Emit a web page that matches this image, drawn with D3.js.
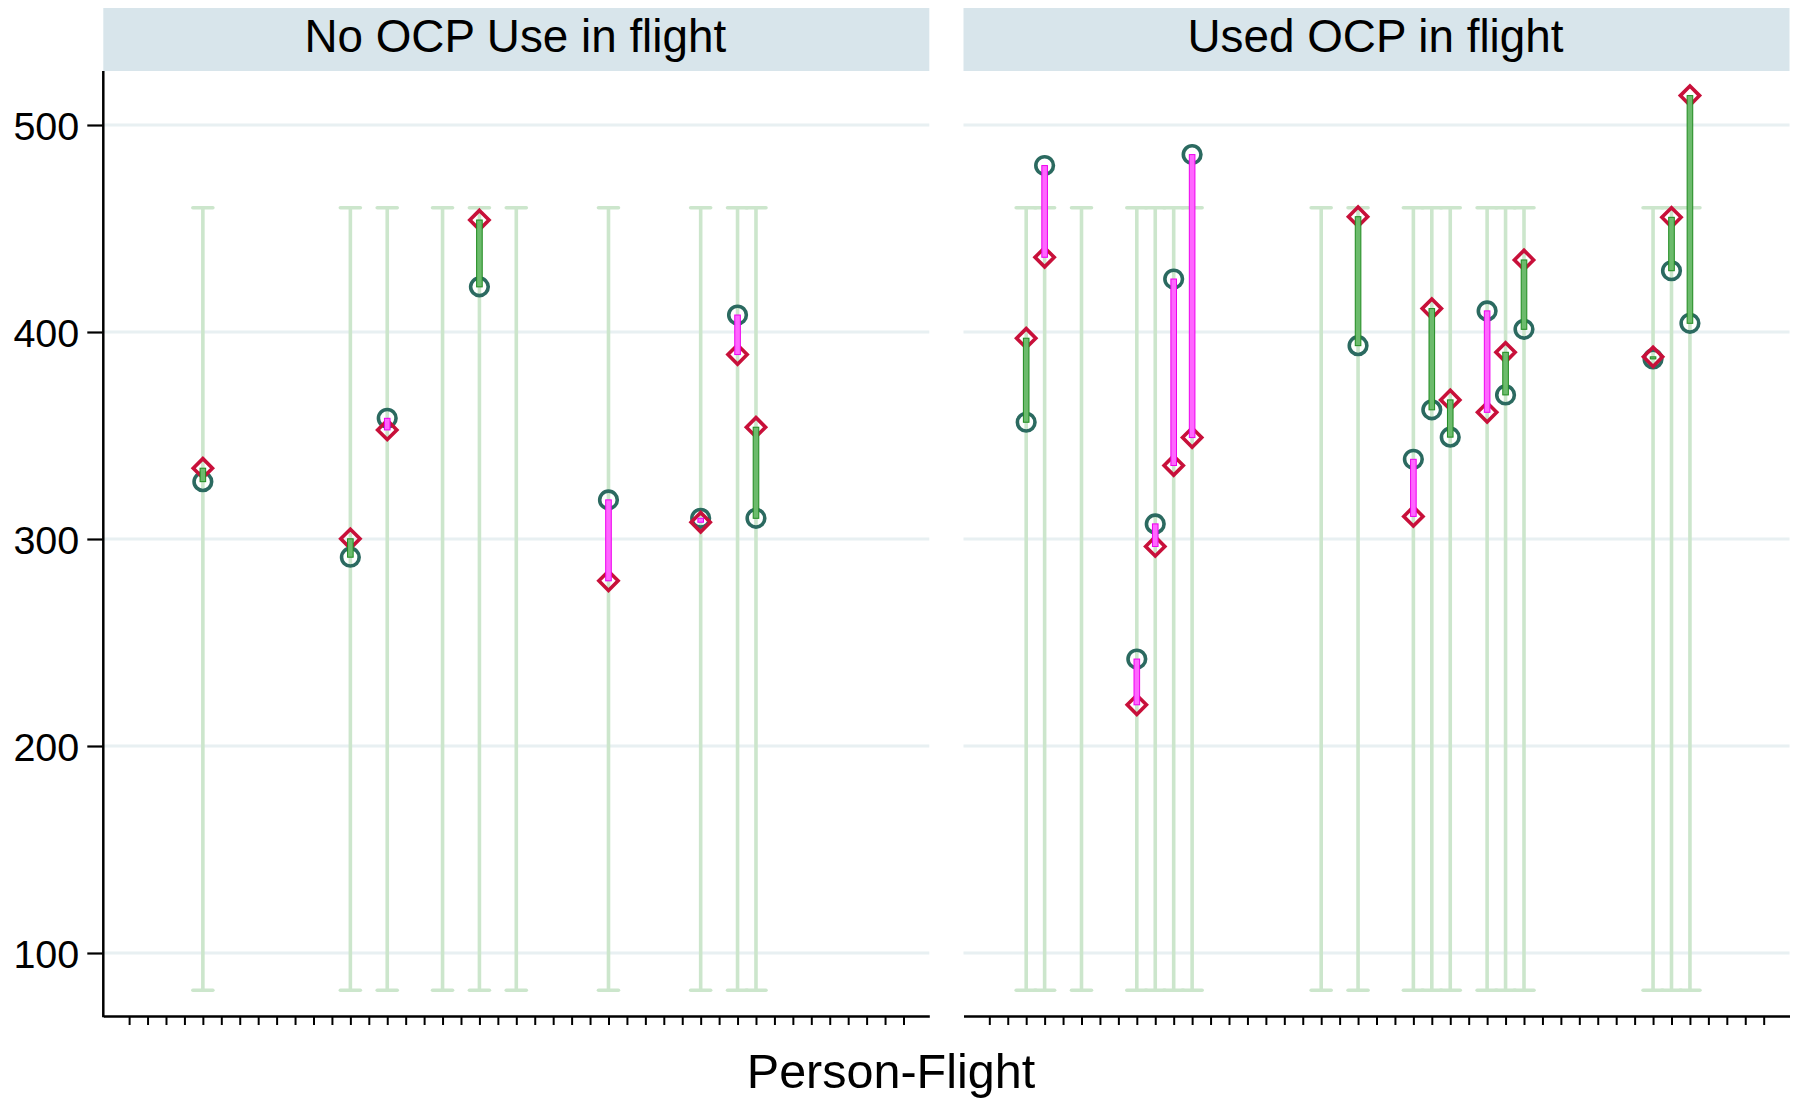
<!DOCTYPE html>
<html>
<head>
<meta charset="utf-8">
<script src="https://cdn.jsdelivr.net/npm/d3@7"></script>
<style>
  html, body { margin: 0; padding: 0; background: #ffffff; }
  svg { display: block; font-family: "Liberation Sans", Arial, Helvetica, sans-serif; }
</style>
</head>
<body>
<svg id="chart" width="1802" height="1100"></svg>
<script>
// ---------------- data ----------------
const panelTitles = ["No OCP Use in flight", "Used OCP in flight"];
const xTitle = "Person-Flight";

// Person-flight positions (x) per panel
const noOcpIds     = [5, 13, 15, 18, 20, 22, 27, 32, 34, 35];
const noOcpCircle  = [327.7, 291.2, 358.3, null, 421.8, null, 318.9, 310.0, 408.2, 310.0];
const noOcpDiamond = [334.2, 300.1, 352.7, null, 454.1, null, 279.8, 308.1, 389.1, 354.0];

const ocpIds     = [3, 4, 6, 9, 10, 11, 12, 19, 21, 24, 25, 26, 28, 29, 30, 37, 38, 39];
const ocpCircle  = [356.4, 480.4, null, 242.0, 307.3, 425.6, 485.7, null, 393.4, 338.5, 362.4, 349.2, 410.2, 369.6, 401.3, 387.0, 429.6, 404.2];
const ocpDiamond = [397.0, 436.1, null, 219.9, 296.4, 335.5, 349.0, null, 455.7, 310.9, 411.3, 367.2, 361.2, 390.2, 434.8, 388.0, 455.4, 514.2];

// reference range shown as capped spikes
const rangeLow  = [82];
const rangeHigh = [460];

const yTicks = [100, 200, 300, 400, 500];
const xTicks = d3.range(1, 44);
const xDomain = [-0.4, 44.4];

// ---------------- layout ----------------
const svg = d3.select("#chart");
const panelLeft = [103.3, 963.5];
const panelW = 826;
const headerTop = 8, plotTop = 71, plotBottom = 1016;

const y = d3.scaleLinear().domain([100, 500]).range([953, 125]);
const x = d3.scaleLinear().domain(xDomain).range([0, panelW]);

const COL = {
  grid: "#e8f0f2",
  header: "#d8e5eb",
  spike: "#cce6cc",
  circle: "#2b6a60",
  diamond: "#c8103a",
  upFill: "#6cbb6c", upStroke: "#1f8a1f",
  downFill: "#ff66ff", downStroke: "#ee00ee"
};

const panels = [
  { title: panelTitles[0], ids: noOcpIds, c: noOcpCircle, d: noOcpDiamond },
  { title: panelTitles[1], ids: ocpIds, c: ocpCircle, d: ocpDiamond }
];

panels.forEach((p, pi) => {
  const g = svg.append("g").attr("transform", `translate(${panelLeft[pi]},0)`);

  // header strip
  g.append("rect")
    .attr("x", 0).attr("y", headerTop)
    .attr("width", panelW).attr("height", plotTop - headerTop)
    .attr("fill", COL.header);
  g.append("text")
    .attr("x", panelW / 2 - 1).attr("y", 51.5)
    .attr("text-anchor", "middle")
    .attr("font-size", 45.8)
    .attr("fill", "#000")
    .text(p.title);

  // gridlines
  g.append("g").selectAll("line").data(yTicks).join("line")
    .attr("x1", 0).attr("x2", panelW)
    .attr("y1", d => y(d)).attr("y2", d => y(d))
    .attr("stroke", COL.grid).attr("stroke-width", 3);

  const rows = p.ids.map((id, i) => ({ id, c: p.c[i], d: p.d[i] }));

  // range spikes with caps
  const sp = g.append("g").attr("stroke", COL.spike).attr("stroke-width", 3.6).attr("stroke-linecap", "round");
  sp.selectAll("line.v").data(rows).join("line").attr("class", "v")
    .attr("x1", r => x(r.id)).attr("x2", r => x(r.id))
    .attr("y1", y(rangeLow[0])).attr("y2", y(rangeHigh[0]));
  sp.selectAll("line.t").data(rows).join("line").attr("class", "t")
    .attr("x1", r => x(r.id) - 10).attr("x2", r => x(r.id) + 10)
    .attr("y1", y(rangeHigh[0])).attr("y2", y(rangeHigh[0]));
  sp.selectAll("line.b").data(rows).join("line").attr("class", "b")
    .attr("x1", r => x(r.id) - 10).attr("x2", r => x(r.id) + 10)
    .attr("y1", y(rangeLow[0])).attr("y2", y(rangeLow[0]));

  const valid = rows.filter(r => r.c != null && r.d != null);

  // circles
  g.append("g").selectAll("circle").data(valid).join("circle")
    .attr("cx", r => x(r.id)).attr("cy", r => y(r.c)).attr("r", 8.8)
    .attr("fill", "none").attr("stroke", COL.circle).attr("stroke-width", 3.6);

  // diamonds
  const ds = 9.6;
  g.append("g").selectAll("path").data(valid).join("path")
    .attr("d", r => {
      const cx = x(r.id), cy = y(r.d);
      return `M${cx},${cy - ds}L${cx + ds},${cy}L${cx},${cy + ds}L${cx - ds},${cy}Z`;
    })
    .attr("fill", "none").attr("stroke", COL.diamond).attr("stroke-width", 3.6)
    .attr("stroke-linejoin", "miter");

  // connecting bars
  g.append("g").selectAll("rect").data(valid).join("rect")
    .attr("x", r => x(r.id) - 2.8)
    .attr("y", r => Math.min(y(r.c), y(r.d)))
    .attr("width", 5.6)
    .attr("height", r => Math.abs(y(r.c) - y(r.d)))
    .attr("fill", r => r.d >= r.c ? COL.upFill : COL.downFill)
    .attr("stroke", r => r.d >= r.c ? COL.upStroke : COL.downStroke)
    .attr("stroke-width", 1);

  // x axis
  const xa = g.append("g").attr("transform", `translate(0,${plotBottom})`)
    .call(d3.axisBottom(x).tickValues(xTicks).tickSize(9).tickSizeOuter(0).tickFormat(""));
  xa.select(".domain").attr("stroke", "#000").attr("stroke-width", 2.5);
  xa.selectAll(".tick line").attr("stroke", "#000").attr("stroke-width", 2);

  // y axis (left panel only)
  if (pi === 0) {
    const ya = g.append("g")
      .call(d3.axisLeft(y).tickValues(yTicks).tickSize(16).tickPadding(8).tickFormat(d3.format("d")));
    ya.select(".domain").remove();
    ya.selectAll(".tick line").attr("stroke", "#000").attr("stroke-width", 2.2);
    ya.selectAll(".tick text")
      .attr("font-size", 39.5).attr("fill", "#000")
      .attr("font-family", "'Liberation Sans', Arial, sans-serif")
      .attr("dy", "0.36em");
    g.append("line")
      .attr("x1", 0).attr("x2", 0)
      .attr("y1", plotTop).attr("y2", plotBottom + 1.2)
      .attr("stroke", "#000").attr("stroke-width", 2.5);
  }
});

// x-axis title
svg.append("text")
  .attr("x", 891).attr("y", 1088)
  .attr("text-anchor", "middle")
  .attr("font-size", 48.5)
  .attr("fill", "#000")
  .text(xTitle);
</script>
</body>
</html>
